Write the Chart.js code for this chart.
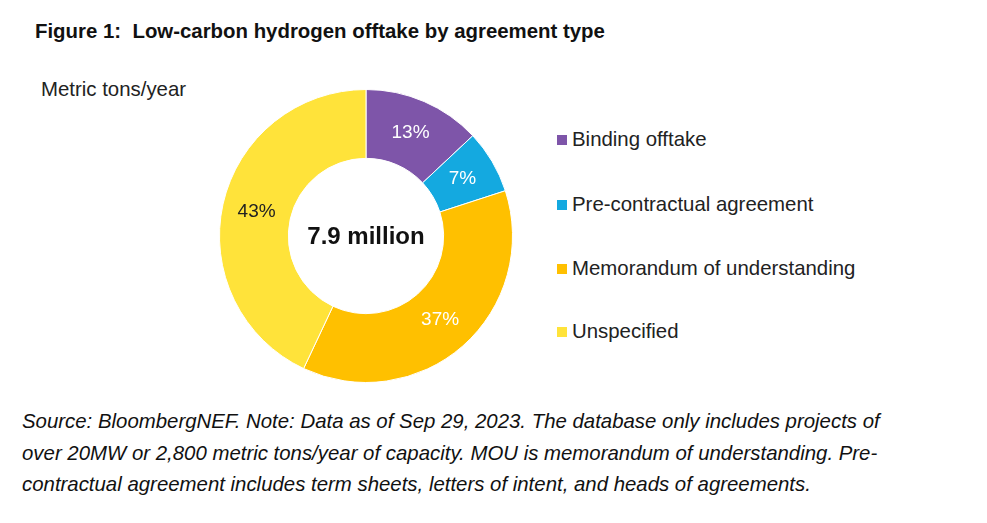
<!DOCTYPE html>
<html>
<head>
<meta charset="utf-8">
<script src="https://cdn.jsdelivr.net/npm/chart.js@4.4.0/dist/chart.umd.min.js"></script>
<style>
  html, body { margin: 0; padding: 0; background: #fff; }
  body { width: 987px; height: 523px; position: relative; overflow: hidden;
         font-family: "Liberation Sans", Arial, sans-serif; color: #111; }
  #title { position: absolute; left: 35px; top: 20px; font-size: 20.4px; font-weight: bold; white-space: pre; }
  #unit { position: absolute; left: 41px; top: 78px; font-size: 20.4px; color: #222; }
  #wrap { position: absolute; left: 219px; top: 89px; width: 294px; height: 294px; }
  #center { position: absolute; left: 219px; top: 222px; width: 294px; text-align: center;
            font-size: 24px; font-weight: bold; }
  #legend { position: absolute; left: 557px; top: 0; }
  .item { position: absolute; left: 0; white-space: nowrap; font-size: 20.4px; color: #222; }
  .item span.box { display: inline-block; width: 10px; height: 10px; margin-right: 5px; vertical-align: 1px; }
  #note { position: absolute; left: 22px; top: 406px; font-size: 20.4px; font-style: italic;
          line-height: 31.5px; color: #111; white-space: pre; }
</style>
</head>
<body>
<div id="title">Figure 1:  Low-carbon hydrogen offtake by agreement type</div>
<div id="unit">Metric tons/year</div>
<div id="wrap"><canvas id="offtakeChart"></canvas></div>
<div id="center">7.9 million</div>
<div id="legend"></div>
<div id="note">Source: BloombergNEF. Note: Data as of Sep 29, 2023. The database only includes projects of
over 20MW or 2,800 metric tons/year of capacity. MOU is memorandum of understanding. Pre-
contractual agreement includes term sheets, letters of intent, and heads of agreements.</div>
<script>
const categories = ['Binding offtake', 'Pre-contractual agreement', 'Memorandum of understanding', 'Unspecified'];
const shares = [13, 7, 37, 43];
const colors = ['#7E55A9', '#14A9E0', '#FFC000', '#FFE33A'];
const labelColors = ['#ffffff', '#ffffff', '#ffffff', '#222222'];

// legend, one row per category
const legendTops = [128, 193, 257, 320];
const legend = document.getElementById('legend');
categories.forEach((name, i) => {
    const row = document.createElement('div');
    row.className = 'item';
    row.style.top = legendTops[i] + 'px';
    row.innerHTML = '<span class="box" style="background:' + colors[i] + '"></span>' + name;
    legend.appendChild(row);
});

// percent labels in the middle of each slice
const sliceLabels = {
    id: 'sliceLabels',
    afterDatasetsDraw(chart) {
        const ctx = chart.ctx;
        const meta = chart.getDatasetMeta(0);
        ctx.save();
        ctx.font = '19px "Liberation Sans", Arial, sans-serif';
        ctx.textAlign = 'center';
        ctx.textBaseline = 'middle';
        meta.data.forEach((arc, i) => {
            const p = arc.getCenterPoint();
            ctx.fillStyle = labelColors[i];
            ctx.fillText(shares[i] + '%', p.x, p.y);
        });
        ctx.restore();
    }
};

new Chart(document.getElementById('offtakeChart').getContext('2d'), {
    type: 'doughnut',
    data: {
        labels: categories,
        datasets: [{
            data: shares,
            backgroundColor: colors,
            borderColor: '#ffffff',
            borderWidth: 1
        }]
    },
    options: {
        responsive: true,
        maintainAspectRatio: false,
        animation: false,
        cutout: '53%',
        layout: { padding: 0 },
        plugins: {
            legend: { display: false },
            tooltip: { enabled: false }
        }
    },
    plugins: [sliceLabels]
});
</script>
</body>
</html>
